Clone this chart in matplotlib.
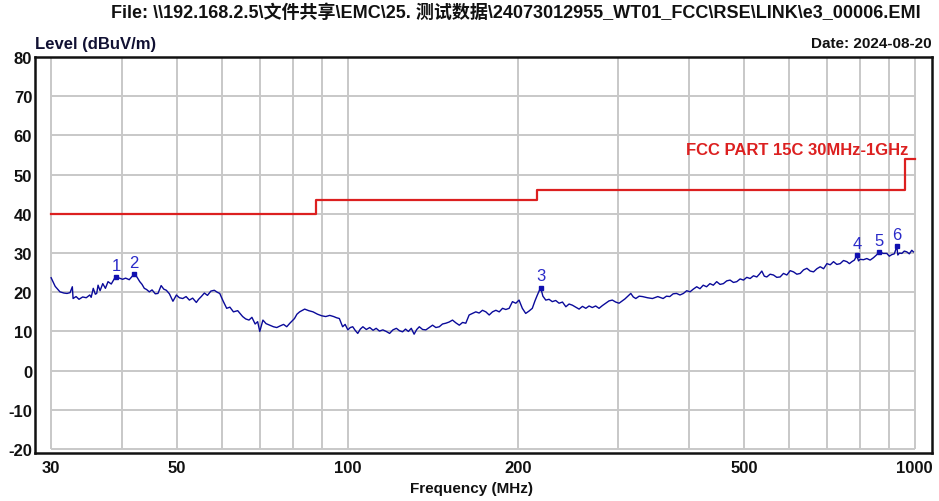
import numpy as np
import matplotlib
matplotlib.use("Agg")
import matplotlib.pyplot as plt

plt.rcParams['font.family'] = ['Liberation Sans', 'Noto Sans CJK SC', 'DejaVu Sans']
plt.rcParams['axes.unicode_minus'] = False

# ---------------- data ----------------
freq_mhz = [30.0, 30.5, 31.1, 31.6, 32.0, 32.4, 32.7, 32.8, 33.2, 33.6, 34.1, 34.6, 35.1, 35.3, 35.6,
            35.9, 36.1, 36.3, 36.6, 37.0, 37.4, 37.8, 38.3, 38.8, 39.1, 39.6, 40.1, 40.6, 41.2, 42.0,
            42.5, 43.0, 43.4, 43.8, 44.2, 44.7, 45.2, 45.8, 46.3, 46.9, 47.4, 47.9, 48.5, 49.2, 49.9,
            50.5, 51.2, 51.9, 52.6, 53.3, 54.1, 54.6, 55.2, 55.9, 56.6, 57.4, 58.2, 58.9, 59.5, 60.3,
            61.2, 62.0, 62.9, 64.0, 65.3, 66.1, 67.0, 67.8, 68.7, 69.4, 70.0, 70.9, 71.8, 72.9, 74.0,
            75.0, 76.0, 77.1, 78.1, 79.1, 80.6, 81.4, 82.3, 84.0, 85.4, 86.9, 88.5, 90.0, 91.5,
            93.0, 94.5, 95.6, 96.7, 98.0, 99.0, 100.1, 101.1, 102.1, 103.1, 104.2, 105.3, 106.4, 107.9,
            109.4, 110.9, 112.3, 113.8, 115.4, 117.0, 118.6, 120.2, 121.9, 123.4, 125.0, 126.5, 128.0,
            129.5, 131.0, 132.4, 133.8, 135.6, 137.4, 139.3, 141.2, 143.1, 145.1, 147.0, 149.0, 151.0,
            153.1, 155.2, 157.4, 159.5, 161.6, 163.8, 166.0, 168.3, 170.6, 172.9, 175.3, 177.7, 180.1,
            182.6, 185.1, 187.6, 190.1, 192.7, 195.3, 198.0, 200.6, 203.3, 206.1, 208.9, 211.7, 214.0,
            216.1, 219.0, 221.0, 223.6, 226.6, 229.6, 232.8, 236.0, 239.3, 242.6, 245.8, 249.1, 252.5,
            256.0, 259.5, 263.1, 266.6, 270.1, 273.8, 277.6, 281.4, 285.2, 289.1, 293.0, 297.0, 301.1,
            308.4, 315.8, 319.0, 322.3, 326.7, 331.1, 337.9, 344.8, 352.4, 360.1, 365.0, 370.0, 375.1,
            380.2, 385.6, 391.1, 396.3, 401.6, 407.1, 412.7, 418.2, 423.8, 429.6, 435.5, 441.5, 447.6,
            453.7, 459.9, 466.2, 472.6, 479.1, 485.6, 492.3, 499.0, 505.8, 512.7, 519.7, 526.8, 532.2,
            537.6, 543.1, 548.6, 556.0, 563.6, 571.3, 579.1, 587.0, 595.1, 603.2, 611.4, 619.8, 628.3,
            636.9, 645.6, 654.4, 663.3, 672.4, 681.5, 690.9, 700.3, 709.8, 719.3, 729.1, 739.1, 749.2,
            759.5, 767.2, 775.0, 782.9, 790.8, 796.1, 801.4, 812.4, 823.5, 834.6, 845.9, 856.3, 866.8,
            880.0, 893.0, 902.2, 911.5, 920.8, 930.1, 934.0, 940.0, 949.2, 958.8, 968.6, 978.5, 988.5,
            995.0]
level_dbuv = [23.7, 21.5, 20.1, 19.8, 19.7, 19.9, 21.4, 18.4, 18.9, 18.2, 18.8, 18.6, 19.3, 18.7, 21.0,
              19.5, 19.7, 21.8, 20.4, 22.2, 21.0, 22.7, 22.1, 23.5, 23.8, 23.6, 23.3, 23.6, 23.2, 24.6,
              23.9, 22.7, 22.0, 21.0, 20.7, 20.1, 20.6, 19.6, 19.7, 21.7, 20.8, 20.5, 19.6, 17.7, 19.3,
              18.6, 18.4, 18.9, 18.0, 18.5, 17.4, 18.2, 18.9, 19.8, 19.2, 20.3, 20.5, 20.0, 19.7, 17.8,
              15.9, 16.2, 15.0, 15.3, 13.8, 13.2, 12.9, 13.6, 11.9, 12.5, 10.0, 12.9, 12.0, 11.6, 11.2,
              11.0, 11.4, 11.8, 11.2, 12.1, 13.3, 14.4, 15.0, 15.7, 15.3, 15.0, 14.4, 14.0, 13.8,
              14.1, 13.8, 13.5, 13.3, 11.2, 11.8, 10.4, 11.0, 11.2, 10.3, 9.5, 10.6, 11.2, 10.5,
              11.0, 10.3, 10.8, 10.1, 10.4, 10.0, 9.5, 10.4, 10.8, 10.2, 9.9, 10.6, 10.0,
              10.8, 9.3, 10.5, 11.2, 10.5, 10.4, 11.0, 11.6, 11.0, 11.2, 11.9, 12.1, 12.4,
              12.9, 12.2, 11.6, 12.3, 12.1, 14.2, 14.6, 15.0, 14.7, 15.4, 15.0, 14.2, 15.0,
              15.4, 15.0, 15.9, 15.6, 15.9, 17.6, 17.2, 18.0, 15.9, 14.6, 15.2, 15.9, 17.8,
              19.3, 21.2, 19.0, 18.0, 18.2, 17.6, 17.9, 17.2, 17.5, 16.3, 17.0, 16.7, 16.2,
              15.7, 16.4, 15.9, 16.5, 16.1, 16.5, 15.9, 16.6, 17.2, 17.8, 18.0, 17.5, 17.2,
              18.3, 19.7, 18.8, 18.4, 19.0, 18.9, 18.6, 18.4, 18.9, 18.4, 19.0, 18.9, 19.6,
              19.7, 19.3, 19.7, 20.4, 20.1, 20.8, 21.4, 20.9, 21.8, 21.4, 22.2, 21.8, 22.7,
              22.0, 22.2, 22.9, 23.1, 22.5, 22.7, 23.4, 23.1, 23.8, 23.5, 24.2, 23.9, 24.6,
              25.4, 24.1, 23.9, 24.6, 24.4, 23.8, 23.9, 24.8, 24.4, 25.5, 25.2, 24.6, 24.8,
              25.7, 26.1, 25.4, 25.2, 26.0, 26.5, 26.0, 27.3, 27.0, 27.8, 27.1, 27.3, 28.1,
              27.8, 27.3, 27.8, 28.2, 29.4, 28.0, 28.4, 28.3, 28.6, 28.2, 28.8, 29.5, 30.3,
              29.9, 29.9, 29.2, 29.6, 29.8, 31.7, 29.5, 30.0, 29.9, 30.5, 30.3, 29.8, 30.7,
              30.3]

limit_freq = [30, 88, 88, 216, 216, 960, 960, 1000]
limit_level = [40, 40, 43.5, 43.5, 46, 46, 54, 54]

marker_ids = ["1", "2", "3", "4", "5", "6"]
marker_freq = [39.1, 42.0, 219.0, 790.8, 866.8, 930.1]
marker_level = [23.8, 24.6, 21.2, 29.4, 30.3, 31.7]

y_ticks = [-20, -10, 0, 10, 20, 30, 40, 50, 60, 70, 80]
x_ticks = [30, 50, 100, 200, 500, 1000]
x_tick_labels = ["30", "50", "100", "200", "500", "1000"]
x_grid = [30, 40, 50, 60, 70, 80, 90, 100, 200, 300, 400, 500, 600, 700, 800, 900, 1000]

title = "File: \\\\192.168.2.5\\文件共享\\EMC\\25. 测试数据\\24073012955_WT01_FCC\\RSE\\LINK\\e3_00006.EMI"
limit_name = "FCC PART 15C 30MHz-1GHz"

# ---------------- figure ----------------
W, H = 939, 502
fig = plt.figure(figsize=(W / 100, H / 100), dpi=100)
ax = fig.add_axes([35 / W, 1 - 454 / H, (932 - 35) / W, (454 - 58) / H])
ax.set_xscale('log')
ax.set_xlim(28.1, 1073)
ax.set_ylim(-21.0, 80)

grid_c = '#c8c8c8'
ax.vlines(x_grid, -20, 80, colors=grid_c, linewidth=1.4, zorder=1)
ax.hlines(y_ticks, 30, 1000, colors=grid_c, linewidth=1.4, zorder=1)

ax.plot(limit_freq, limit_level, color='#dc2020', linewidth=1.6, zorder=3)
ax.text(973, 56.4, limit_name, color='#dc2020', fontsize=12,
        fontweight='bold', ha='right', va='center', zorder=5)

ax.plot(freq_mhz, level_dbuv, color='#0a0a9a', linewidth=1.0, zorder=4)
ax.plot(marker_freq, marker_level, linestyle='none', marker='s', markersize=3.5,
        color='#1010b0', zorder=5)
for mid, f, l in zip(marker_ids, marker_freq, marker_level):
    ax.annotate(mid, (f, l), xytext=(0, 3), textcoords='offset points',
                ha='center', va='bottom', fontsize=12, color='#2a2ac8', zorder=6)

ax.set_xticks(x_ticks)
ax.set_xticklabels(x_tick_labels)
ax.xaxis.set_minor_locator(matplotlib.ticker.NullLocator())
ax.set_yticks(y_ticks)
ax.tick_params(axis='both', length=0, labelsize=12, colors='#111111')
ax.tick_params(axis='x', pad=5)
ax.tick_params(axis='y', pad=2)
for lab in ax.get_xticklabels() + ax.get_yticklabels():
    lab.set_fontweight('bold')

for s in ax.spines.values():
    s.set_linewidth(1.8)
    s.set_color('#111111')

fig.text(472 / W, 1 - 489 / H, "Frequency (MHz)", ha='center', va='center', fontsize=11,
         fontweight='bold', color='#111111')
fig.text(516 / W, 1 - 13 / H, title, ha='center', va='center', fontsize=13,
         fontweight='bold', color='#111111')
fig.text(35 / W, 1 - 45 / H, "Level (dBuV/m)", ha='left', va='center', fontsize=12,
         fontweight='bold', color='#111133')
fig.text(932 / W, 1 - 44 / H, "Date: 2024-08-20", ha='right', va='center', fontsize=11,
         fontweight='bold', color='#111111')

fig.savefig("out.png", dpi=100)
